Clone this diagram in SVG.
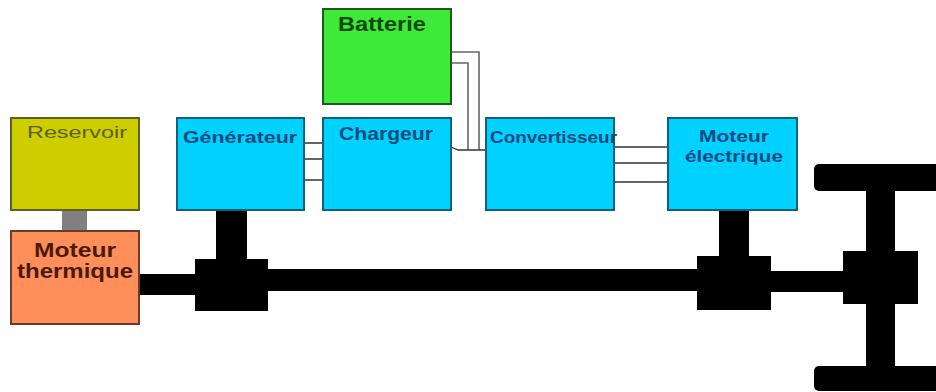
<svg xmlns="http://www.w3.org/2000/svg" width="936" height="392" viewBox="0 0 936 392">
<style>
.box{stroke-width:2}
.blue{fill:#00d2ff;stroke:#10607a}
.t{font-family:"Liberation Sans",Arial,sans-serif;font-weight:bold}
.bt{fill:#004a80}
.w{fill:none;stroke:#333;stroke-width:1.3}
.g{fill:none;stroke:#666;stroke-width:1.6}
.k{fill:#000}
</style>
<rect width="936" height="392" fill="#fff"/>
<g id="connectors">
<rect x="62" y="210" width="25" height="21" fill="#808080"/>
<rect class="k" x="139" y="274" width="60" height="21"/>
<rect class="k" x="216" y="210" width="31" height="52"/>
<rect class="k" x="264" y="269" width="436" height="22"/>
<rect class="k" x="719" y="210" width="30" height="50"/>
<rect class="k" x="768" y="271" width="78" height="21"/>
<rect class="k" x="866" y="188" width="29" height="180"/>
<path class="w" d="M304 143H323M304 159H323M304 180H323M614 147H668M614 163H668M614 182H668"/>
<path class="g" d="M451 52H479V150M451 63H468V150"/>
<path class="w" d="M451 147L458 150H486"/>
</g>
<g id="coupleur-generateur"><rect class="k" x="195" y="259" width="73" height="52"/></g>
<g id="coupleur-moteur"><rect class="k" x="697" y="256" width="74" height="54"/></g>
<g id="differentiel"><rect class="k" x="843" y="251" width="75" height="53"/></g>
<g id="roue-haut"><rect class="k" x="814" y="164" width="140" height="27" rx="5"/></g>
<g id="roue-bas"><rect class="k" x="814" y="366" width="140" height="25" rx="5"/></g>
<g id="batterie"><rect class="box" x="323" y="9" width="128" height="95" fill="#3ee938" stroke="#1d5a1d"/><text class="t" x="338" y="31" font-size="20" textLength="88" lengthAdjust="spacingAndGlyphs" fill="#0b4a0b">Batterie</text></g>
<g id="chargeur"><rect class="box blue" x="323" y="118" width="128" height="92"/><text class="t bt" x="339" y="140" font-size="18" textLength="94" lengthAdjust="spacingAndGlyphs">Chargeur</text></g>
<g id="convertisseur"><rect class="box blue" x="486" y="118" width="128" height="92"/><text class="t bt" x="490" y="143" font-size="16" textLength="127" lengthAdjust="spacingAndGlyphs">Convertisseur</text></g>
<g id="generateur"><rect class="box blue" x="177" y="118" width="127" height="92"/><text class="t bt" x="183" y="143" font-size="16" textLength="114" lengthAdjust="spacingAndGlyphs">Générateur</text></g>
<g id="moteur-electrique"><rect class="box blue" x="668" y="118" width="129" height="92"/><text class="t bt" x="699" y="142" font-size="17" textLength="70" lengthAdjust="spacingAndGlyphs">Moteur</text><text class="t bt" x="685" y="162" font-size="17" textLength="98" lengthAdjust="spacingAndGlyphs">électrique</text></g>
<g id="reservoir"><rect class="box" x="11" y="118" width="128" height="92" fill="#cdcd00" stroke="#5f5f20"/><text class="t" x="27" y="138" font-size="17" style="font-weight:normal" textLength="100" lengthAdjust="spacingAndGlyphs" fill="#5f5f10">Reservoir</text></g>
<g id="moteur-thermique"><rect class="box" x="11" y="231" width="128" height="93" fill="#ff8f5a" stroke="#6a3a2a"/><text class="t" x="34" y="257" font-size="21" textLength="82" lengthAdjust="spacingAndGlyphs" fill="#4a1a0a">Moteur</text><text class="t" x="17" y="278" font-size="21" textLength="116" lengthAdjust="spacingAndGlyphs" fill="#4a1a0a">thermique</text></g>
</svg>
